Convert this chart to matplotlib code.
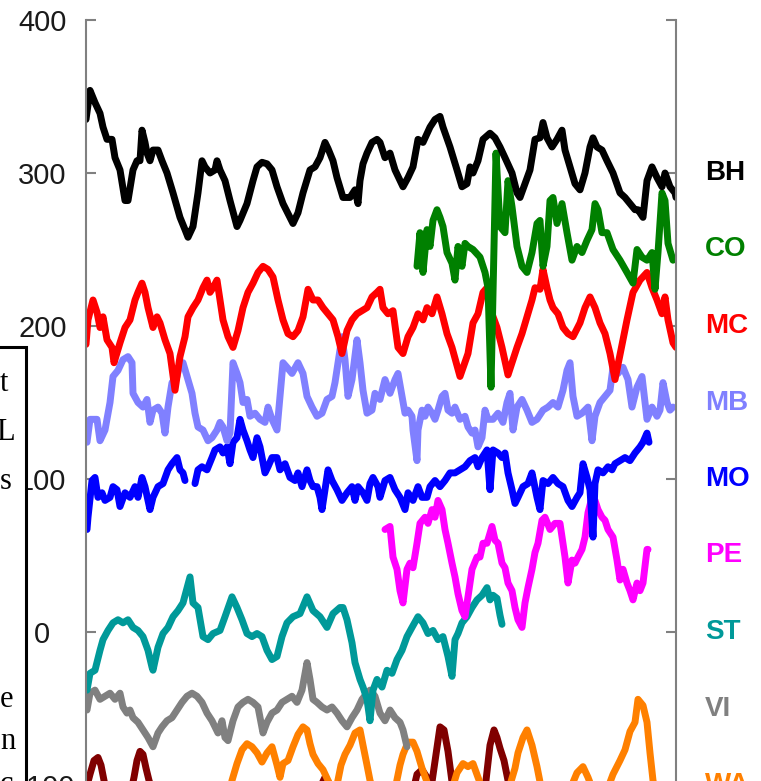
import numpy as np
import matplotlib.pyplot as plt
from matplotlib.patches import Rectangle

# values: x = sample index, y = value
bh_x = [0, 4, 9, 14, 17, 21, 26, 29, 34, 39, 42, 47, 51, 54, 56, 59, 61, 64, 67, 72,
        76, 81, 87, 94, 99, 102, 107, 112, 116, 119, 124, 129, 131, 134, 139, 144, 151, 154, 161, 167,
        171, 176, 181, 186, 191, 197, 204, 207, 212, 217, 224, 229, 234, 239, 242, 247, 251, 257, 264, 269,
        272, 274, 277, 281, 286, 291, 294, 299, 304, 309, 317, 322,
        327, 332, 337, 344, 349, 354, 357, 364, 371, 376, 381, 384, 387, 392, 397, 404, 409, 414, 419, 426,
        431, 434, 439, 444, 449, 454, 457, 461, 466, 471, 476, 479, 484, 489, 494, 499, 504, 507, 511, 516,
        521, 527, 534, 539, 544, 549, 552, 557, 561, 566, 571, 576, 579, 584, 589, 590]
bh_y = [335, 354, 346, 339, 330, 322, 322, 310, 302, 282, 282, 302, 308, 308, 328, 320, 313, 308, 315, 315,
        308, 300, 287, 271, 263, 258, 265, 287, 308, 304, 300, 302, 308, 302, 295, 282, 265, 269, 280, 295,
        304, 307, 306, 302, 291, 280, 271, 267, 274, 287, 302, 304, 310, 320, 316, 308, 297, 284, 284, 289,
        280, 295, 306, 313, 320, 322, 320, 310, 313, 302, 291, 297,
        304, 322, 320, 330, 335, 337, 330, 317, 302, 291, 293, 304, 300, 308, 322, 326, 323, 317, 310, 300,
        287, 284, 293, 302, 322, 323, 333, 323, 317, 322, 328, 315, 304, 293, 289, 300, 317, 323, 317, 315,
        308, 300, 287, 284, 280, 276, 276, 271, 295, 304, 297, 291, 300, 291, 287, 284]

co_x = [331, 334, 337, 341, 344, 347, 351, 354, 357, 361, 366, 369, 372, 376, 379, 382, 387, 394, 399, 402,
        405, 410, 414, 419, 422, 426, 431, 436, 441, 446, 451, 454, 457, 461, 464, 467, 471, 476, 481, 486,
        491, 496, 501, 506, 509, 512, 516, 521, 527, 534, 541, 547, 551, 556, 561, 566, 569, 572, 576, 579,
        582, 587]
co_y = [239, 261, 235, 263, 252, 269, 276, 271, 265, 248, 241, 230, 252, 239, 254, 252, 250, 245, 235, 225,
        160, 313, 265, 261, 295, 278, 252, 239, 235, 248, 267, 269, 239, 252, 282, 284, 267, 280, 261, 243,
        252, 248, 256, 263, 280, 276, 261, 261, 250, 243, 235, 228, 250, 245, 243, 248, 224, 248, 287, 282,
        254, 243]

mc_x = [0, 2, 7, 11, 14, 17, 21, 26, 28, 34, 39, 44, 49, 52, 56, 59, 62, 67, 71, 74,
        79, 84, 89, 94, 99, 102, 107, 112, 117, 121, 124, 127, 131, 134, 137, 142, 147, 152, 157, 162,
        167, 172, 177, 182, 187, 192, 197, 202, 207, 212, 217, 222, 227, 232, 237, 242, 247, 252, 256, 261,
        266, 271, 276, 281, 286, 291, 294, 297, 302, 307, 312, 317, 322, 327, 332, 337, 341, 346, 351, 356,
        361, 366, 374, 382, 387, 392, 397, 401, 406, 411, 416, 422, 431, 436, 441, 446, 449, 454, 457, 461,
        464, 467, 472, 477, 482, 487, 494, 499, 504, 509, 514, 519, 524, 529, 541, 547, 554, 561, 566, 571,
        576, 579, 582, 587, 590]
mc_y = [188, 204, 217, 209, 199, 206, 191, 186, 176, 189, 199, 204, 217, 222, 228, 222, 212, 199, 206, 202,
        191, 182, 158, 180, 193, 206, 212, 217, 225, 230, 222, 225, 230, 217, 204, 193, 186, 197, 212, 222,
        228, 235, 239, 237, 232, 217, 204, 195, 193, 197, 206, 224, 217, 217, 212, 208, 204, 193, 182, 197,
        204, 208, 210, 212, 219, 222, 224, 212, 208, 210, 186, 182, 193, 199, 208, 204, 212, 208, 219, 208,
        195, 186, 167, 182, 202, 208, 222, 225, 208, 199, 186, 168, 186, 195, 206, 217, 225, 224, 237, 225,
        217, 212, 208, 199, 195, 193, 202, 212, 219, 212, 202, 195, 182, 165, 204, 222, 230, 235, 225, 217,
        208, 219, 204, 189, 186]

mb_x = [1, 4, 11, 14, 19, 24, 27, 32, 37, 42, 46, 47, 52, 57, 61, 64, 67, 72, 76, 79,
        82, 86, 91, 94, 97, 101, 106, 109, 112, 117, 122, 126, 131, 134, 137, 141, 144, 147, 151, 154,
        157, 161, 164, 169, 174, 179, 182, 186, 191, 194, 197, 201, 206, 212, 217, 221, 226, 231, 236, 241,
        246, 249, 252, 256, 259, 262, 266, 271, 274, 277, 281, 286, 289, 294,
        299, 304, 309, 312, 316, 319, 322, 326, 327, 331, 332, 336, 339, 342, 346, 349, 352, 356, 359, 362,
        366, 369, 374, 379, 382, 386, 389, 392, 396, 399, 402, 407, 412, 417, 421, 424, 427, 431, 436, 441,
        446, 451, 457, 462, 467, 472, 477, 481, 484, 487, 491, 496, 499, 502, 506, 509, 514, 519, 524, 527,
        532, 537, 542, 546, 551, 556, 561, 566, 571, 574, 577, 581, 584, 587]
mb_y = [124, 139, 139, 125, 132, 150, 167, 171, 178, 180, 176, 156, 150, 147, 152, 137, 145, 147, 143, 130,
        147, 163, 167, 176, 176, 167, 156, 143, 134, 132, 125, 127, 132, 137, 134, 125, 130, 176, 169, 163,
        150, 152, 141, 143, 139, 137, 147, 139, 132, 154, 176, 173, 169, 176, 169, 154, 147, 141, 143, 152,
        154, 163, 176, 193, 178, 154, 165, 191, 176, 158, 143, 145, 156, 152,
        165, 156, 165, 169, 154, 143, 145, 141, 132, 112, 132, 145, 141, 147, 143, 139, 145, 154, 156, 145,
        143, 147, 139, 141, 134, 130, 132, 121, 127, 145, 139, 139, 143, 137, 150, 156, 132, 147, 152, 145,
        137, 139, 145, 147, 150, 147, 158, 171, 176, 154, 141, 143, 145, 147, 125, 141, 150, 154, 158, 173,
        169, 173, 165, 147, 160, 167, 139, 147, 141, 145, 163, 150, 145, 147]

mo_x = [1, 2, 6, 9, 12, 16, 19, 24, 27, 31, 34, 39, 44, 49, 52, 56, 59, 64, 67, 72,
        77, 82, 86, 91, 94, 97, 99, 104,
        109, 112, 116, 121, 126, 129, 134, 137, 141, 144, 147, 151, 154, 157, 161, 164, 167, 171, 174, 179,
        182, 186, 191, 194, 199, 204, 209, 212, 216, 221, 224, 227, 231, 234, 236, 239, 242, 246, 251, 256,
        261, 266, 269, 272, 277, 281, 284, 287, 292, 294,
        299, 304, 309, 314, 319, 322, 327, 332, 336, 341, 344, 349, 354, 359, 364, 369, 374, 379, 384, 389,
        392, 396, 401, 404, 407, 412, 416, 419, 422, 426, 429, 432, 437, 442, 446, 451, 454, 457, 462, 467,
        472, 477, 482, 486, 491, 494, 497, 501, 504, 507, 509, 512, 517, 522, 526, 529, 534, 539, 544, 549,
        554, 557, 561, 563]
mo_y = [67, 75, 99, 101, 88, 91, 86, 88, 95, 93, 82, 91, 88, 95, 88, 101, 95, 80, 88, 95,
        97, 106, 110, 114, 106, 104, 99, np.nan,
        97, 106, 108, 106, 114, 119, 121, 117, 121, 110, 124, 127, 139, 132, 125, 119, 114, 127, 121, 104,
        108, 114, 114, 106, 110, 101, 99, 104, 95, 106, 99, 95, 95, 88, 80, 93, 106, 99, 93, 86,
        91, 95, 86, 95, 91, 86, 97, 101, 95, 88,
        99, 101, 93, 88, 80, 91, 86, 95, 88, 88, 95, 99, 95, 99, 104, 104, 106, 108, 112, 114,
        108, 114, 119, 93, 119, 117, 114, 117, 104, 93, 84, 88, 95, 97, 104, 88, 80, 99, 97, 101,
        97, 95, 86, 82, 88, 91, 110, 101, 93, 62, 97, 106, 104, 108, 106, 110, 112, 114, 112, 117,
        121, 124, 130, 124]

pe_x = [299, 304, 307, 311, 314, 317, 321, 324, 327, 331, 334, 339, 342, 346, 349, 352, 356, 359, 362, 366,
        369, 372, 376, 379, 382, 386, 391, 394, 397, 401, 406, 409, 412, 416, 419, 422, 426, 429, 432, 436,
        439, 442, 446, 449, 452, 456, 459, 464, 469, 474, 479, 482, 486, 489, 492, 496, 499, 502, 506, 509,
        512, 516, 519, 522, 527, 531, 534, 537, 541, 544, 547, 551, 554, 557, 561, 562]
pe_y = [67, 69, 49, 41, 27, 19, 41, 45, 42, 58, 71, 75, 71, 80, 75, 86, 80, 67, 58, 45,
        36, 25, 14, 10, 23, 41, 49, 49, 58, 58, 69, 60, 58, 45, 42, 32, 27, 16, 8, 3,
        19, 29, 41, 52, 58, 73, 75, 67, 71, 71, 49, 32, 47, 45, 49, 54, 62, 78, 88, 86,
        80, 75, 73, 67, 62, 47, 34, 41, 32, 27, 21, 32, 27, 32, 54, 54]

st_x = [1, 4, 9, 14, 17, 22, 27, 32, 37, 42, 47, 52, 57, 62, 66, 67, 72, 77, 82, 87,
        92, 97, 104, 107, 112, 117, 122, 127, 134, 139, 146, 151, 156, 161, 166, 171, 176, 181, 186, 191,
        196, 201, 207, 214, 221, 227, 234, 241, 247, 254, 257, 261, 266, 269, 274, 277, 281, 284, 287, 291,
        296, 301, 306, 311, 316, 321, 326, 332, 337, 342, 347, 352, 357, 362, 366, 369, 372, 376, 381, 386,
        391, 396, 401, 404, 407, 411, 414, 416]
st_y = [-38, -27, -25, -12, -5, 1, 6, 8, 6, 8, 3, 1, -3, -12, -23, -25, -10, -1, 3, 10,
        14, 19, 36, 19, 16, -3, -5, -1, 1, 10, 23, 16, 8, -1, -3, -1, -3, -12, -18, -16,
        -3, 6, 10, 12, 23, 14, 10, 3, 12, 16, 16, 8, -7, -20, -31, -36, -44, -58, -38, -31,
        -36, -25, -27, -18, -12, -3, 3, 10, 6, -1, 1, -5, -3, -16, -29, -5, -1, 6, 10, 16,
        21, 24, 29, 21, 24, 22, 11, 5]

vi_x = [1, 4, 9, 14, 19, 24, 29, 34, 37, 41, 44, 47, 52, 57, 62, 67, 72, 76, 81, 86,
        91, 96, 101, 106, 111, 116, 121, 126, 129, 132, 136, 139, 142, 147, 152, 157, 162, 167, 172, 177,
        181, 186, 191, 196, 201, 206, 211, 216, 221, 224, 227, 231, 236, 241, 246, 251, 256, 261, 266, 271,
        276, 281, 284, 289, 294, 299, 304, 309, 314, 317, 321]
vi_y = [-51, -40, -38, -44, -42, -40, -44, -40, -49, -53, -51, -56, -59, -64, -69, -75, -66, -62, -58, -56,
        -51, -46, -42, -40, -42, -46, -53, -58, -62, -66, -58, -69, -71, -58, -49, -46, -44, -46, -49, -66,
        -59, -53, -51, -46, -44, -42, -46, -38, -20, -31, -44, -46, -49, -51, -49, -53, -58, -62, -56, -51,
        -44, -40, -38, -42, -53, -58, -51, -56, -59, -64, -75]

wa_x = [142, 146, 151, 156, 161, 166, 171, 176, 181, 186, 191, 194, 197, 202, 207, 212, 217, 221, 224, 227,
        232, 237, 242, 247, 251, 255, 259, 264, 269, 274, 277, 281, 284, 289, 299, 309, 314, 317, 322, 327,
        331, 336, 341, 349, 364, 371, 377, 382, 387, 392, 399, 414, 424, 429, 432, 437, 441, 446, 451, 454,
        464, 484, 491, 497, 502, 509, 519, 527, 534, 539, 544, 549, 552, 557, 561, 564, 567, 571]
wa_y = [-110, -97, -86, -77, -73, -75, -79, -85, -79, -75, -87, -95, -86, -84, -75, -67, -62, -64, -73, -80,
        -86, -90, -97, -103, -100, -87, -80, -74, -66, -64, -74, -87, -97, -107, -110, -103, -87, -80, -72, -72,
        -78, -89, -98, -110, -107, -92, -86, -88, -86, -95, -107, -110, -100, -89, -79, -69, -64, -74, -88, -98,
        -110, -103, -92, -88, -95, -107, -107, -93, -84, -77, -65, -59, -44, -48, -59, -79, -97, -110]

dr_x = [0, 4, 8, 12, 15, 18, 22, 34, 44, 48, 51, 54, 57, 60, 63, 69, 114, 174, 229, 236,
        239, 242, 247, 294, 326, 331, 336, 341, 346, 350, 354, 358, 362, 366, 372, 394, 400, 404, 408, 411,
        414, 418, 422, 428, 454]
dr_y = [-103, -93, -84, -82, -87, -97, -110, -113, -107, -95, -84, -78, -80, -89, -97, -110, -113, -110, -107, -99,
        -95, -99, -107, -113, -107, -93, -90, -95, -98, -80, -62, -64, -78, -98, -110, -107, -97, -74, -64, -69,
        -76, -84, -97, -110, -113]

series = [
    ('BH', bh_x, bh_y, '#000000', 300),
    ('CO', co_x, co_y, '#008000', 250),
    ('MC', mc_x, mc_y, '#ff0000', 200),
    ('MB', mb_x, mb_y, '#8080ff', 150),
    ('MO', mo_x, mo_y, '#0000ff', 100),
    ('PE', pe_x, pe_y, '#ff00ff', 50),
    ('ST', st_x, st_y, '#009999', 0),
    ('VI', vi_x, vi_y, '#808080', -50),
    ('WA', wa_x, wa_y, '#ff8000', -100),
]

plt.rcParams['font.family'] = ['Liberation Sans', 'DejaVu Sans']

fig = plt.figure(figsize=(7.61, 7.81), dpi=100)
ax = fig.add_axes([86 / 761, -4 / 781, 590 / 761, 765 / 781])

# draw in reverse so the upper series sit on top
ax.plot(dr_x, dr_y, color='#800000', lw=5, solid_capstyle='round', solid_joinstyle='round')
for name, xs, ys, col, lab_y in series[::-1]:
    ax.plot(xs, ys, color=col, lw=5, solid_capstyle='round', solid_joinstyle='round')

for name, xs, ys, col, lab_y in series:
    ax.text(1.049, lab_y, name, transform=ax.get_yaxis_transform(), color=col,
            fontsize=20, fontweight='bold', ha='left', va='center', clip_on=False)

ax.set_xlim(0, 590)
ax.set_ylim(-100, 400)
ax.set_yticks([-100, 0, 100, 200, 300, 400])
ax.set_xticks([])
for s in ['top', 'bottom']:
    ax.spines[s].set_visible(False)
for s in ['left', 'right']:
    ax.spines[s].set_color('#808080')
    ax.spines[s].set_linewidth(1.5)
ax.tick_params(axis='y', direction='in', length=7, width=1.5, color='#808080',
               left=True, right=True, labelsize=21, labelcolor='#1a1a1a', pad=31.5)
plt.setp(ax.get_yticklabels(), ha='center')

# piece of a neighbouring text frame overlapping the left edge
fig.add_artist(Rectangle((-10 / 761, -0.1), 35.5 / 761, 0.1 + 434 / 781,
                         transform=fig.transFigure, facecolor='white',
                         edgecolor='black', lw=2.2, zorder=10))
box_letters = [('t', 0, 391), ('L', -4, 440), ('s', 0, 489), ('e', 0, 707), ('n', 0, 749), ('c', 0, 792)]
for ch, px, base in box_letters:
    fig.text(px / 761, 1 - base / 781, ch, family=['Liberation Serif', 'DejaVu Serif'],
             fontsize=22, ha='left', va='baseline', zorder=11)

fig.savefig('out.png', dpi=100)
